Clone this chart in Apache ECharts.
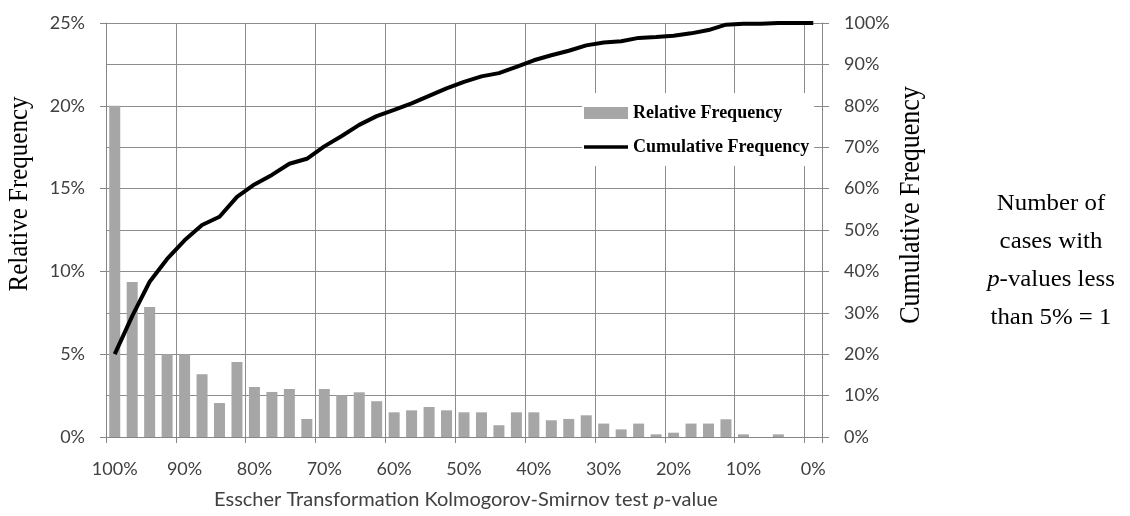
<!DOCTYPE html>
<html>
<head>
<meta charset="utf-8">
<script src="https://cdn.jsdelivr.net/npm/echarts/dist/echarts.min.js"></script>
<style>
html,body{margin:0;padding:0;background:#fff;}
#chart{width:1130px;height:516px;}
</style>
</head>
<body>
<div id="chart"></div>
<script>
// Categories: p-value bins (2.5% steps), from 100% down to 0%
const categories = ['100%','97.5%','95%','92.5%','90%','87.5%','85%','82.5%','80%','77.5%','75%','72.5%','70%','67.5%','65%','62.5%','60%','57.5%','55%','52.5%','50%','47.5%','45%','42.5%','40%','37.5%','35%','32.5%','30%','27.5%','25%','22.5%','20%','17.5%','15%','12.5%','10%','7.5%','5%','2.5%','0%'];

// Relative frequency (%) per bin
const relativeFreq = [20.0, 9.36, 7.85, 5.0, 5.0, 3.79, 2.05, 4.53, 3.02, 2.72, 2.9, 1.09, 2.9, 2.52, 2.7, 2.16, 1.49, 1.61, 1.81, 1.61, 1.49, 1.49, 0.71, 1.49, 1.49, 1.01, 1.09, 1.31, 0.81, 0.46, 0.81, 0.16, 0.26, 0.81, 0.81, 1.07, 0.16, 0, 0.16, 0, 0];

// Cumulative frequency (%) per bin
const cumulativeFreq = [20.0, 29.2, 37.5, 43.0, 47.5, 51.2, 53.2, 58.0, 61.0, 63.3, 66.0, 67.2, 70.2, 72.7, 75.4, 77.5, 79.0, 80.6, 82.4, 84.2, 85.8, 87.1, 87.9, 89.4, 91.0, 92.2, 93.3, 94.6, 95.3, 95.6, 96.4, 96.6, 96.9, 97.5, 98.3, 99.6, 99.8, 99.8, 100, 100, 100];

// Axis ranges
const leftAxisMax = 25, leftAxisStep = 5;
const rightAxisMax = 100, rightAxisStep = 10;

const seriesNames = ['Relative Frequency', 'Cumulative Frequency'];
const leftTitle = 'Relative Frequency';
const rightTitle = 'Cumulative Frequency';
const xTitle = 'Esscher Transformation Kolmogorov-Smirnov test {i|p}-value';
const noteText = 'Number of\ncases with\n{i|p}-values less\nthan 5% = 1';

const axisGray = '#868686';
const gridGray = '#8c8c8c';
const labelFont = 'Lato';
const serifFont = '"Liberation Serif", "Times New Roman", serif';

const chart = echarts.init(document.getElementById('chart'), null, {renderer: 'canvas'});
chart.setOption({
  animation: false,
  backgroundColor: '#fff',
  grid: {left: 106, right: 308, top: 23, bottom: 79},
  xAxis: {
    type: 'category',
    data: categories,
    boundaryGap: true,
    axisLine: {lineStyle: {color: axisGray, width: 1}},
    axisTick: {show: true, interval: 3, length: 6, lineStyle: {color: axisGray}},
    axisLabel: {interval: 3, margin: 23, fontFamily: labelFont, fontSize: 18, color: '#404040'},
    splitLine: {show: true, interval: 3, lineStyle: {color: gridGray, width: 1}}
  },
  yAxis: [
    {
      type: 'value', min: 0, max: leftAxisMax, interval: leftAxisStep, position: 'left',
      axisLine: {show: true, lineStyle: {color: axisGray}},
      axisTick: {show: true, length: 6, lineStyle: {color: axisGray}},
      axisLabel: {formatter: '{value}%', margin: 21, fontFamily: labelFont, fontSize: 18, color: '#404040'},
      splitLine: {show: false}
    },
    {
      type: 'value', min: 0, max: rightAxisMax, interval: rightAxisStep, position: 'right',
      axisLine: {show: true, lineStyle: {color: axisGray}},
      axisTick: {show: true, length: 7, lineStyle: {color: axisGray}},
      axisLabel: {formatter: '{value}%', margin: 22, fontFamily: labelFont, fontSize: 18, color: '#404040'},
      splitLine: {show: true, lineStyle: {color: gridGray, width: 1}}
    }
  ],
  legend: {
    orient: 'vertical',
    left: 582, top: 93,
    padding: [11, 5, 10, 2],
    backgroundColor: '#fff',
    itemWidth: 44, itemHeight: 12, itemGap: 16,
    textStyle: {fontFamily: serifFont, fontSize: 18, fontWeight: 'bold', color: '#000'},
    data: [
      {name: seriesNames[0], icon: 'rect'},
      {name: seriesNames[1], icon: 'path://M0,0 L44,0 L44,3.5 L0,3.5 Z', itemStyle: {color: '#000'}}
    ]
  },
  series: [
    {
      name: seriesNames[0], type: 'bar', yAxisIndex: 0, data: relativeFreq,
      barWidth: 11, itemStyle: {color: '#a6a6a6'}
    },
    {
      name: seriesNames[1], type: 'line', yAxisIndex: 1, data: cumulativeFreq,
      symbol: 'none', smooth: false, z: 3,
      lineStyle: {color: '#000', width: 4}, itemStyle: {color: '#000'}
    }
  ],
  graphic: [
    {type: 'text', x: 20, y: 194, rotation: Math.PI / 2, scaleY: 1.1,
     style: {text: leftTitle, font: '25px ' + serifFont, fill: '#000', align: 'center', verticalAlign: 'middle'}},
    {type: 'text', x: 911, y: 205, rotation: Math.PI / 2, scaleY: 1.1,
     style: {text: rightTitle, font: '26px ' + serifFont, fill: '#000', align: 'center', verticalAlign: 'middle'}},
    {type: 'text', x: 466, y: 500,
     style: {text: xTitle, fontFamily: labelFont, fontSize: 20, fill: '#404040', align: 'center', verticalAlign: 'middle',
             rich: {i: {fontFamily: labelFont, fontSize: 20, fontStyle: 'italic', fill: '#404040'}}}},
    {type: 'text', x: 1051, y: 261, scaleX: 1.08,
     style: {text: noteText, fontFamily: serifFont, fontSize: 23, fill: '#000', align: 'center', verticalAlign: 'middle', lineHeight: 38,
             rich: {i: {fontFamily: serifFont, fontSize: 23, fontStyle: 'italic', fill: '#000', lineHeight: 38}}}}
  ]
});
</script>
</body>
</html>
